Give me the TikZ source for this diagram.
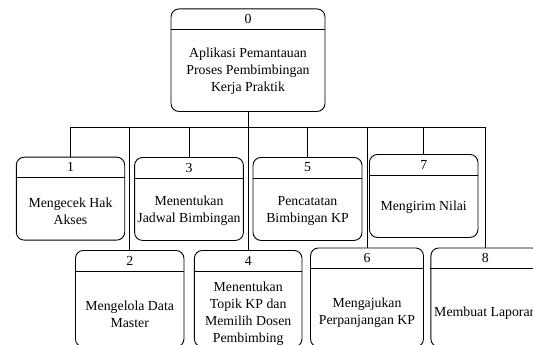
\documentclass[tikz,border=0pt]{standalone}
\usepackage{fontspec}
\setmainfont{Liberation Serif}
\usetikzlibrary{positioning}

\begin{document}
\begin{tikzpicture}[x=1pt, y=-1pt,
  proc/.style={draw, rounded corners=8pt, line width=0.9pt, inner sep=0pt},
  lbl/.style={align=center, font=\fontsize{13.8}{17}\selectfont, inner sep=0pt},
  link/.style={line width=0.9pt}]
\useasboundingbox (0,0) rectangle (533,345);
\clip (0,0) rectangle (533,345);
%
\foreach \k/\bx/\by/\bw/\bh/\tyy/\txt in {
  0/248/8.5/154/102.5/71.4/{Aplikasi Pemantauan\\Proses Pembimbingan\\Kerja Praktik},
  1/70.5/156.7/108.4/83/211/{Mengecek Hak\\Akses},
  3/189/157/108.8/83/211/{Menentukan\\Jadwal Bimbingan},
  5/307.5/157/109/83/211/{Pencatatan\\Bimbingan KP},
  7/423.7/154/108.5/83/207.5/{Mengirim Nilai},
  2/129.7/250/108.5/96.5/314/{Mengelola Data\\Master},
  4/248.2/250/107.6/96.5/313.6/{Menentukan\\Topik KP dan\\Memilih Dosen\\Pembimbing},
  6/367/247.5/113/99/312.5/{Mengajukan\\Perpanjangan KP},
  8/485.4/247.5/109/99/313/{Membuat Laporan}}
{
  \node[proc, anchor=north, minimum width=\bw pt, minimum height=\bh pt] (b\k) at (\bx,\by) {};
  \draw[link] ([yshift=-21pt]b\k.north west) -- ([yshift=-21pt]b\k.north east);
  \node[lbl] (n\k) at ([yshift=-10.5pt]b\k.north) {\k};
  \node[lbl] (t\k) at (\bx,\tyy) {\txt};
}
%
\coordinate (bus) at (248,127);
\draw[link] (b0.south) -- (bus);
\foreach \k in {1,...,8}
  \draw[link] (bus) -| (b\k.north);
\end{tikzpicture}
\end{document}
